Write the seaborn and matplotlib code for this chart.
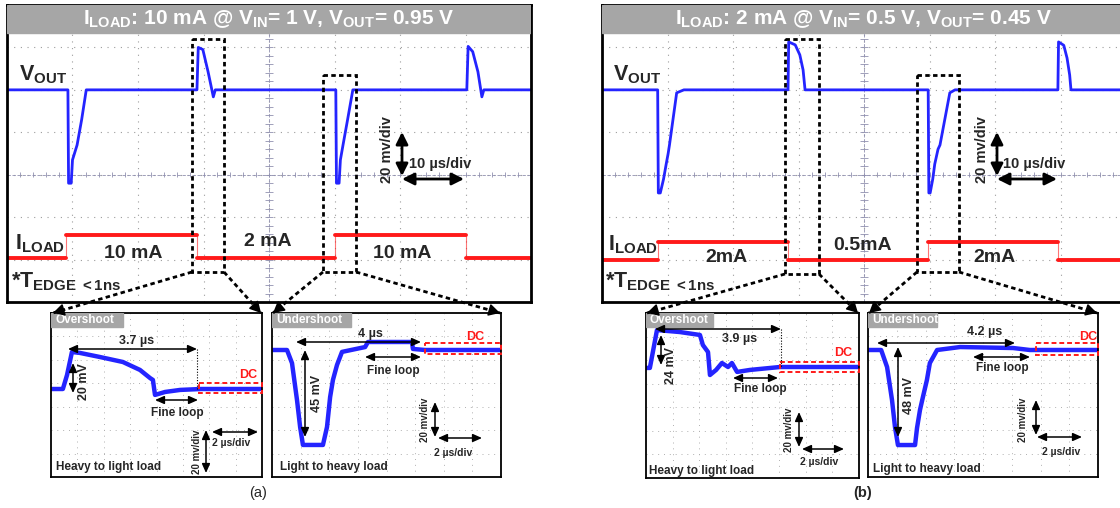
import numpy as np
import matplotlib
matplotlib.use('Agg')
import matplotlib.pyplot as plt
import matplotlib.patches as mpatches
import seaborn as sns

sns.set_theme(style='white')
plt.rcParams['font.family'] = ['Liberation Sans', 'DejaVu Sans']
plt.rcParams['mathtext.fontset'] = 'custom'
plt.rcParams['mathtext.rm'] = 'Liberation Sans:bold'
plt.rcParams['mathtext.it'] = 'Liberation Sans:bold'
plt.rcParams['mathtext.bf'] = 'Liberation Sans:bold'

# ---------------- data read off the scope shots ----------------
# main screens: time in us (10 us/div), Vout deviation in mV (20 mV/div), Iload in mA
a_vout_t = [-40, -30.7, -30.6, -30.2, -30.0, -29.3, -28.6, -27.9, -11.0, -10.8, -10.1, -9.3, -8.5, -8.2,
            10.2, 10.3, 10.7, 10.9, 11.3, 12.0, 12.8, 30.2, 30.4, 31.1, 31.9, 32.5, 32.8, 40]
a_vout_mv = [0, 0, -44, -44, -33, -26, -14, 0, 0, 20, 19, 8.5, -3.3, 0,
             0, -44, -44, -33, -26, -14, 0, 0, 20.5, 18, 8.5, -3.3, 0, 0]
a_iload_t = [-40, -31.0, -11.0, 10.1, 30.1, 40]
a_iload_ma = [2, 10, 2, 10, 2, 2]

b_vout_t = [-40, -31.5, -31.4, -31.1, -30.6, -30.2, -29.9, -29.7, -28.6, -27.5,
            -11.6, -11.5, -10.5, -9.8, -9.3, -9.0,
            9.8, 9.9, 10.1, 10.5, 10.8, 11.3, 11.6, 13.1, 13.9,
            29.6, 29.7, 30.5, 31.0, 31.4, 31.6, 40]
b_vout_mv = [0, 0, -48.6, -48.6, -42, -35, -30, -26, -1.4, 0,
             0, 22.6, 21.2, 16.5, 9.4, 0,
             0, -48.6, -48.6, -42, -35, -28, -26, -1.4, 0,
             0, 22.6, 21, 15, 7, 0, 0]
b_iload_t = [-40, -31.5, -11.6, 9.8, 29.6, 40]
b_iload_ma = [0.5, 2, 0.5, 2, 0.5, 0.5]

# zoomed insets: time in us, Vout deviation from DC in mV
a1_t = [0, 0.34, 0.46, 0.60, 0.83, 1.40, 2.06, 2.55, 2.84, 2.92, 2.98, 3.27, 3.70, 4.30, 6.05]
a1_mv = [0, 0, 7.6, 20, 19.5, 17.3, 14.6, 10.3, 5.9, 4.9, -3.2, -1.6, -0.5, 0, 0]
a2_t = [0, 0.48, 0.64, 0.80, 0.90, 0.99, 1.63, 1.76, 1.86, 1.95, 2.08, 2.24, 2.98, 3.07, 4.48, 4.51, 4.90, 7.33]
a2_mv = [0, 0, -6.2, -23.7, -36.5, -45, -45, -36.5, -22.3, -14.2, -7.1, -0.9, 1.4, 3.8, 3.8, 0.5, 0, 0]
b1_t = [0, 0.12, 0.34, 1.05, 1.67, 1.76, 1.92, 1.98, 2.17, 2.35, 2.54, 2.66, 2.82, 3.22, 4.15, 6.59]
b1_mv = [-0.6, -0.6, 24, 22.7, 20.8, 14.3, 9.7, -5.2, -1.9, 2.6, 0, 2.6, -3.2, -1.9, 0, 0]
b2_t = [0, 0.40, 0.58, 0.73, 0.82, 0.91, 1.43, 1.49, 1.58, 1.67, 1.79, 1.88, 2.10, 2.80, 4.41, 4.92, 6.99]
b2_mv = [0, 0, -8.6, -25.3, -38.9, -48, -48, -39.4, -30.3, -23.7, -15.2, -6.6, 0, 1.5, 1.0, 0, 0]

a_title = r"I$_{\mathrm{LOAD}}$: 10 mA @ V$_{\mathrm{IN}}$= 1 V, V$_{\mathrm{OUT}}$= 0.95 V"
b_title = r"I$_{\mathrm{LOAD}}$: 2 mA @ V$_{\mathrm{IN}}$= 0.5 V, V$_{\mathrm{OUT}}$= 0.45 V"
a_load_labels = ["10 mA", "2 mA", "10 mA"]
b_load_labels = ["2mA", "0.5mA", "2mA"]

BLUE = '#2424ff'
RED = '#ff1a1a'
GREY = '#a6a6a6'

W, H = 1120, 508
fig = plt.figure(figsize=(W / 100, H / 100), dpi=100)


def px_axes(x0, y0, x1, y1, **kw):
    return fig.add_axes([x0 / W, 1 - y1 / H, (x1 - x0) / W, (y1 - y0) / H], **kw)


def main_scope(box, vt, vmv, it, ima, ilev, title):
    x0, y0, x1, y1 = box
    ax = px_axes(x0, y0, x1, y1)
    ax.set_xlim(-40, 40)
    ax.set_ylim(-3, 4)
    ax.set_xticks(np.arange(-30, 31, 10))
    ax.set_yticks(np.arange(-2, 4))
    ax.tick_params(length=0, labelbottom=False, labelleft=False)
    ax.grid(True, color='#9c9c9c', ls=(0, (1, 5)), lw=0.8)
    # centre cross of the graticule with minor marks
    ax.axhline(0, color='#9090b0', lw=0.6, ls=(0, (4, 2)))
    ax.axvline(0, color='#9090b0', lw=0.6, ls=(0, (4, 2)))
    ax.vlines(np.arange(-40, 40.1, 2), -0.06, 0.06, color='#9090b0', lw=0.6)
    ax.hlines(np.arange(-3, 4.01, 0.2), -0.6, 0.6, color='#9090b0', lw=0.6)
    # Vout trace (20 mV/div, DC level two divisions above centre)
    sns.lineplot(x=vt, y=[2 + v / 20 for v in vmv], ax=ax, estimator=None, sort=False,
                 color=BLUE, lw=2)
    # Iload trace: thin edges, thick noisy-looking levels
    lo, hi = min(ima), max(ima)
    ylo, yhi = ilev
    iy = [ylo + (v - lo) / (hi - lo) * (yhi - ylo) for v in ima]
    sns.lineplot(x=it, y=iy, ax=ax, estimator=None, sort=False, color=RED, lw=0.8,
                 alpha=0.6, drawstyle='steps-post')
    seg_x, seg_y, seg_u = [], [], []
    for k in range(len(it) - 1):
        seg_x += [it[k], it[k + 1]]
        seg_y += [iy[k], iy[k]]
        seg_u += [k, k]
    sns.lineplot(x=seg_x, y=seg_y, units=seg_u, ax=ax, estimator=None, sort=False,
                 color=RED, lw=2.8)
    hb = 28 / (y1 - y0)
    ax.add_patch(mpatches.Rectangle((0, 1 - hb), 1, hb, transform=ax.transAxes,
                                    color=GREY, zorder=5))
    ax.text(0.5, 1 - hb / 2, title, transform=ax.transAxes, ha='center', va='center',
            color='white', fontsize=15, fontweight='bold', zorder=6)
    ax.set_xlabel('')
    ax.set_ylabel('')
    for s in ax.spines.values():
        s.set_color('black')
        s.set_linewidth(2)
    return ax


def inset(box, base, sx, sy, t, mv, header, hdr_w):
    x0, y0, x1, y1 = box
    ax = px_axes(x0, y0, x1, y1)
    ax.set_xlim(0, (x1 - x0) / sx)
    ax.set_ylim(-(y1 - base) / sy, (base - y0) / sy)
    ax.set_xticks(np.linspace(0, (x1 - x0) / sx, 9)[1:-1])
    ax.set_yticks(np.linspace(-(y1 - base) / sy, (base - y0) / sy, 8)[1:-1])
    ax.tick_params(length=0, labelbottom=False, labelleft=False)
    ax.grid(True, color='#b0b0b0', ls=(0, (1, 5)), lw=0.7)
    sns.lineplot(x=t, y=mv, ax=ax, estimator=None, sort=False, color=BLUE, lw=3.2)
    hh = 13.5 / (y1 - y0)
    ax.add_patch(mpatches.Rectangle((0, 1 - hh), hdr_w / (x1 - x0), hh, transform=ax.transAxes,
                                    color=GREY, zorder=5))
    ax.text(4 / (x1 - x0), 1 - hh / 2, header, transform=ax.transAxes, ha='left', va='center',
            color='white', fontsize=8.5, fontweight='bold', zorder=6)
    ax.set_xlabel('')
    ax.set_ylabel('')
    for s in ax.spines.values():
        s.set_color('black')
        s.set_linewidth(1.3)
    return ax


main_scope((7, 5, 531, 302), a_vout_t, a_vout_mv, a_iload_t, a_iload_ma, (-1.97, -1.42), a_title)
main_scope((602, 5, 1126, 302), b_vout_t, b_vout_mv, b_iload_t, b_iload_ma, (-2.01, -1.59), b_title)

inset((51, 313, 262, 477), 389, 34.9, 1.85, a1_t, a1_mv, "Overshoot", 72)
inset((272, 313, 501, 477), 350, 31.25, 2.11, a2_t, a2_mv, "Undershoot", 79)
inset((646, 313, 859, 478), 367, 32.3, 1.54, b1_t, b1_mv, "Overshoot", 67)
inset((868, 313, 1098, 477), 350, 32.9, 1.98, b2_t, b2_mv, "Undershoot", 69)

# ---------------- overlay in pixel coordinates for the annotations ----------------
ov = fig.add_axes([0, 0, 1, 1], zorder=10)
ov.set_xlim(0, W)
ov.set_ylim(H, 0)
ov.axis('off')
ov.patch.set_alpha(0)

DASH = (0, (1.6, 1.2))


def txt(x, y, s, size, **kw):
    kw.setdefault('ha', 'center')
    kw.setdefault('va', 'center')
    kw.setdefault('fontweight', 'bold')
    ov.text(x, y, s, fontsize=size, **kw)


def darrow(x0, y0, x1, y1, lw=1.1, hl=0.45, hw=0.2):
    ov.annotate('', xy=(x1, y1), xytext=(x0, y0),
                arrowprops=dict(arrowstyle=f'<|-|>,head_length={hl},head_width={hw}',
                                color='black', lw=lw, shrinkA=0, shrinkB=0))


def connector(x0, y0, x1, y1):
    ov.plot([x0, x1], [y0, y1], color='black', lw=2, ls=DASH)
    d = np.hypot(x1 - x0, y1 - y0)
    ux, uy = (x1 - x0) / d, (y1 - y0) / d
    ov.annotate('', xy=(x1, y1), xytext=(x1 - 7 * ux, y1 - 7 * uy),
                arrowprops=dict(arrowstyle='-|>,head_length=0.55,head_width=0.3',
                                color='black', lw=1.2, shrinkA=0, shrinkB=0))


def dash_box(x0, y0, x1, y1):
    ov.add_patch(mpatches.Rectangle((x0, y0), x1 - x0, y1 - y0, fill=False,
                                    ec='black', lw=2, ls=DASH))


def dc_box(x0, y0, x1, y1):
    ov.add_patch(mpatches.Rectangle((x0, y0), x1 - x0, y1 - y0, fill=False,
                                    ec=RED, lw=1.4, ls=(0, (2.5, 1.5))))


# panel (a) main labels
txt(19, 80, r"V$_{\mathrm{OUT}}$", 15.5, ha='left', va='baseline')
txt(15, 249, r"I$_{\mathrm{LOAD}}$", 15.5, ha='left', va='baseline')
txt(11, 287, r"*T$_{\mathrm{EDGE\ <1ns}}$", 15.5, ha='left', va='baseline')
for lab, (x, y) in zip(a_load_labels, [(133, 253), (268, 242), (402, 253)]):
    txt(x, y, lab, 14)
darrow(402, 132, 402, 176, lw=2, hl=0.6, hw=0.3)
darrow(402, 179, 464, 179, lw=2, hl=0.6, hw=0.3)
txt(409, 164, "10 µs/div", 10.5, ha='left')
txt(387, 150, "20 mv/div", 10.5, rotation=90)
dash_box(192, 39, 224, 272)
dash_box(323, 75, 356, 272)
connector(192, 272, 53, 313)
connector(224, 272, 261, 313)
connector(323, 272, 273, 313)
connector(356, 272, 500, 313)

# panel (b) main labels
txt(613, 80, r"V$_{\mathrm{OUT}}$", 15.5, ha='left', va='baseline')
txt(608, 250, r"I$_{\mathrm{LOAD}}$", 15.5, ha='left', va='baseline')
txt(605, 287, r"*T$_{\mathrm{EDGE\ <1ns}}$", 15.5, ha='left', va='baseline')
for lab, (x, y) in zip(b_load_labels, [(727, 258), (863, 245), (995, 258)]):
    txt(x, y, lab, 14)
darrow(997, 132, 997, 176, lw=2, hl=0.6, hw=0.3)
darrow(997, 179, 1057, 179, lw=2, hl=0.6, hw=0.3)
txt(1003, 164, "10 µs/div", 10.5, ha='left')
txt(982, 150, "20 mv/div", 10.5, rotation=90)
dash_box(785, 39, 819, 274)
dash_box(917, 75, 959, 272)
connector(785, 274, 647, 313)
connector(819, 274, 858, 313)
connector(917, 272, 869, 313)
connector(959, 272, 1097, 313)

# inset a1 (overshoot, heavy to light)
darrow(68, 349, 197, 349)
txt(137, 341, "3.7 µs", 9)
ov.plot([197, 197], [349, 389], color='black', lw=0.8, ls=(0, (1, 1.5)))
darrow(73, 363, 73, 393)
txt(84, 382, "20 mV", 9, rotation=90)
darrow(155, 400, 198, 400)
txt(177, 413, "Fine loop", 8.5)
dc_box(199, 383, 262, 393)
txt(248, 375, "DC", 9, color=RED)
darrow(206, 430, 206, 473)
darrow(212, 432, 258, 432)
txt(197, 452, "20 mv/div", 7, rotation=90)
txt(231, 443, "2 µs/div", 7.5)
txt(56, 467, "Heavy to light load", 8.5, ha='left')

# inset a2 (undershoot, light to heavy)
darrow(296, 342, 421, 342)
txt(370, 334, "4 µs", 9)
darrow(305, 350, 305, 437)
txt(317, 393, "45 mV", 9, rotation=90)
darrow(365, 357, 421, 357)
txt(393, 371, "Fine loop", 8.5)
dc_box(425, 343, 501, 354)
txt(475, 337, "DC", 9, color=RED)
darrow(435, 402, 435, 437)
darrow(438, 438, 482, 438)
txt(425, 420, "20 mv/div", 7, rotation=90)
txt(453, 453, "2 µs/div", 7.5)
txt(280, 467, "Light to heavy load", 8.5, ha='left')

# inset b1 (overshoot, heavy to light)
darrow(655, 329, 781, 329)
txt(740, 339, "3.9 µs", 9)
ov.plot([781, 781], [329, 367], color='black', lw=0.8, ls=(0, (1, 1.5)))
darrow(661, 335, 661, 365)
txt(671, 366, "24 mV", 9, rotation=90)
darrow(733, 378, 778, 378)
txt(760, 389, "Fine loop", 8.5)
dc_box(780, 362, 859, 372)
txt(843, 353, "DC", 9, color=RED)
darrow(799, 412, 799, 447)
darrow(802, 449, 844, 449)
txt(789, 430, "20 mv/div", 7, rotation=90)
txt(819, 462, "2 µs/div", 7.5)
txt(649, 471, "Heavy to light load", 8.5, ha='left')

# inset b2 (undershoot, light to heavy)
darrow(877, 343, 1015, 343)
txt(985, 332, "4.2 µs", 9)
darrow(898, 347, 898, 437)
txt(909, 395, "48 mV", 9, rotation=90)
darrow(973, 357, 1030, 357)
txt(1002, 368, "Fine loop", 8.5)
dc_box(1036, 343, 1098, 355)
txt(1088, 337, "DC", 9, color=RED)
darrow(1036, 400, 1036, 435)
darrow(1037, 437, 1082, 437)
txt(1023, 420, "20 mv/div", 7, rotation=90)
txt(1061, 452, "2 µs/div", 7.5)
txt(873, 469, "Light to heavy load", 8.5, ha='left')

txt(258, 493, "(a)", 10.5, fontweight='normal')
txt(863, 493, "(b)", 10.5)

fig.savefig('out.png', dpi=100)
